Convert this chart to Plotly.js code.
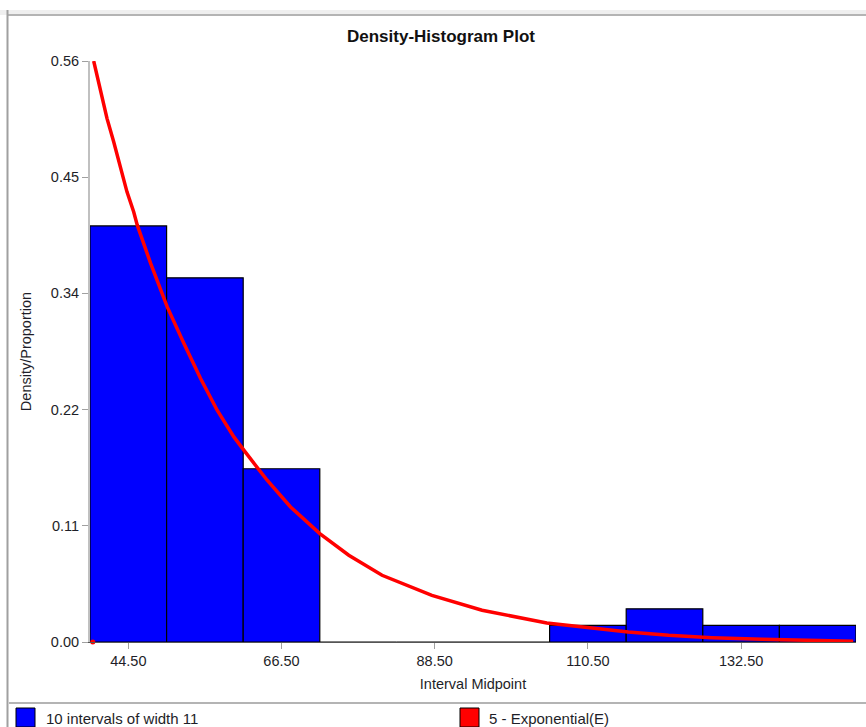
<!DOCTYPE html>
<html>
<head>
<meta charset="utf-8">
<script src="https://cdn.plot.ly/plotly-3.0.1.min.js"></script>
<style>
html,body{margin:0;padding:0;background:#fff;}
#chart{width:866px;height:727px;}
</style>
</head>
<body>
<div id="chart"></div>
<script>
// ---- data ----
const intervalMidpoints = [44.5, 55.5, 66.5, 77.5, 88.5, 99.5, 110.5, 121.5, 132.5, 143.5];
const intervalWidth = 11;
const proportions = [0.401, 0.351, 0.167, 0, 0, 0, 0.016, 0.032, 0.016, 0.016];

const curveX = [39.53, 40.48, 41.44, 42.40, 43.35, 44.31, 45.27, 45.79, 47.71, 50.09, 52.49, 54.88, 57.26, 59.66, 61.09, 64.44, 67.80, 72.0, 76.16, 80.94, 88.1, 95.3, 104.6, 110.1, 116.3, 122.1, 128.3, 135.5, 143.1, 148.6];
const curveY = [0.56, 0.5336, 0.5047, 0.4822, 0.4565, 0.4339, 0.4147, 0.4018, 0.3649, 0.3230, 0.2878, 0.2540, 0.2234, 0.1977, 0.1849, 0.1559, 0.1302, 0.1045, 0.0836, 0.0643, 0.045, 0.0306, 0.0183, 0.0145, 0.0096, 0.0065, 0.0042, 0.0026, 0.0013, 0.0007];
const curveStartX = [39.4];
const curveStartY = [0];

const yTickVals = [0, 0.112, 0.224, 0.336, 0.448, 0.56];
const yTickText = ["0.00", "0.11", "0.22", "0.34", "0.45", "0.56"];
const xTickVals = [44.5, 66.5, 88.5, 110.5, 132.5];
const xTickText = ["44.50", "66.50", "88.50", "110.50", "132.50"];

const legendBarLabel = "10 intervals of width 11";
const legendCurveLabel = "5 - Exponential(E)";

// ---- layout helpers (pixel -> paper) ----
const W = 866, H = 727;
const M = {l: 90, r: 10, t: 61, b: 85};
const PW = W - M.l - M.r, PH = H - M.t - M.b;
const px = x => (x - M.l) / PW;
const py = y => (H - M.b - y) / PH;

const font = "Liberation Sans, Arial, sans-serif";
const txt = '#1E1E28';

const traces = [
  {
    type: 'bar',
    x: intervalMidpoints,
    y: proportions,
    width: intervalMidpoints.map(() => intervalWidth),
    marker: {color: '#0000FF', line: {color: '#000000', width: 1.2}},
    name: legendBarLabel,
    showlegend: false,
    hoverinfo: 'x+y'
  },
  {
    type: 'scatter',
    mode: 'lines',
    x: curveX,
    y: curveY,
    line: {color: '#FF0000', width: 3.5, shape: 'linear'},
    name: legendCurveLabel,
    showlegend: false
  },
  {
    type: 'scatter',
    mode: 'markers',
    x: curveStartX,
    y: curveStartY,
    marker: {color: '#FF0000', size: 5},
    showlegend: false,
    cliponaxis: false,
    hoverinfo: 'skip'
  }
];

const shapes = [
  // top window band
  {type: 'rect', xref: 'paper', yref: 'paper', x0: px(0), x1: px(W), y0: py(15), y1: py(10), fillcolor: '#EFEFEF', line: {width: 0}, layer: 'below'},
  {type: 'line', xref: 'paper', yref: 'paper', x0: px(7), x1: px(W), y0: py(15), y1: py(15), line: {color: '#B4B4B4', width: 2}},
  // left border
  {type: 'line', xref: 'paper', yref: 'paper', x0: px(7.5), x1: px(7.5), y0: py(10), y1: py(H), line: {color: '#A0A0A0', width: 2}},
  // legend separator
  {type: 'line', xref: 'paper', yref: 'paper', x0: px(9), x1: px(W), y0: py(703), y1: py(703), line: {color: '#B4B4B4', width: 2}},
  // legend swatches
  {type: 'rect', xref: 'paper', yref: 'paper', x0: px(16), x1: px(35), y0: py(727), y1: py(708), fillcolor: '#0000FF', line: {color: '#000', width: 1}},
  {type: 'rect', xref: 'paper', yref: 'paper', x0: px(460), x1: px(479), y0: py(727), y1: py(708), fillcolor: '#FF0000', line: {color: '#000', width: 1}}
];

const annotations = [
  {xref: 'paper', yref: 'paper', x: px(44), y: py(718), xanchor: 'left', yanchor: 'middle', text: legendBarLabel, showarrow: false, font: {family: font, size: 15, color: txt}},
  {xref: 'paper', yref: 'paper', x: px(487), y: py(718), xanchor: 'left', yanchor: 'middle', text: legendCurveLabel, showarrow: false, font: {family: font, size: 15, color: txt}}
];

const layout = {
  width: W, height: H,
  margin: M,
  paper_bgcolor: '#FFFFFF',
  plot_bgcolor: '#FFFFFF',
  bargap: 0,
  showlegend: false,
  font: {family: font, size: 14, color: txt},
  title: {
    text: '<b>Density-Histogram Plot</b>',
    font: {family: font, size: 17, color: '#111'},
    x: 441 / W, xanchor: 'center',
    y: 1 - 36 / H, yanchor: 'middle'
  },
  xaxis: {
    range: [39, 149],
    tickvals: xTickVals,
    ticktext: xTickText,
    ticks: 'outside', ticklen: 6, tickcolor: '#A0A0A0', tickwidth: 1,
    showline: true, linecolor: '#555', linewidth: 1,
    showgrid: false, zeroline: false,
    tickfont: {family: font, size: 14.5, color: txt},
    title: {text: 'Interval Midpoint', font: {family: font, size: 14.5, color: txt}, standoff: 10}
  },
  yaxis: {
    range: [0, 0.56],
    tickvals: yTickVals,
    ticktext: yTickText,
    ticks: 'outside', ticklen: 6, tickcolor: '#A0A0A0', tickwidth: 1,
    showline: true, linecolor: '#C0C0C0', linewidth: 2,
    showgrid: false, zeroline: false,
    tickfont: {family: font, size: 14.5, color: txt},
    title: {text: 'Density/Proportion', font: {family: font, size: 14.5, color: txt}, standoff: 16}
  },
  shapes: shapes,
  annotations: annotations
};

Plotly.newPlot('chart', traces, layout, {displayModeBar: false, staticPlot: true});
</script>
</body>
</html>
